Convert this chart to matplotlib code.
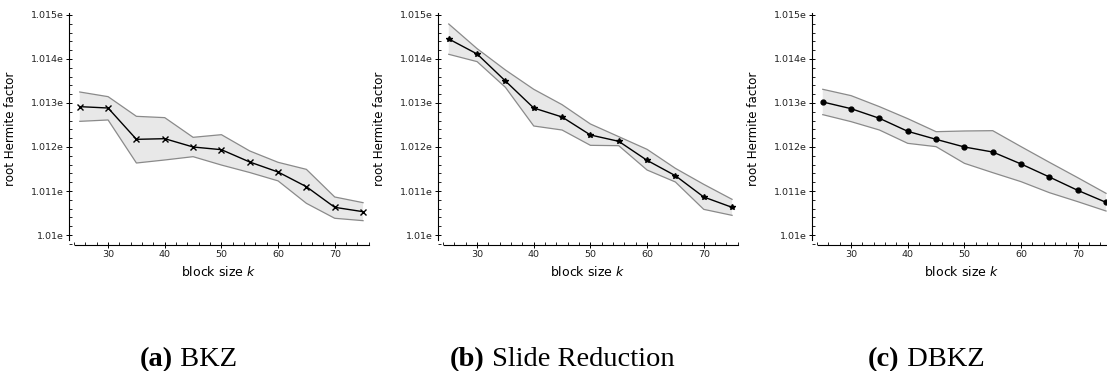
import numpy as np
import matplotlib.pyplot as plt
from matplotlib.ticker import FixedLocator, FixedFormatter, MultipleLocator

block_size = [25, 30, 35, 40, 45, 50, 55, 60, 65, 70, 75]

bkz_mean = [1.012917, 1.012886, 1.012174, 1.012189, 1.012000, 1.011939,
            1.011659, 1.011432, 1.011098, 1.010629, 1.010530]
bkz_upper = [1.013250, 1.013144, 1.012697, 1.012667, 1.012220, 1.012280,
             1.011910, 1.011652, 1.011492, 1.010864, 1.010735]
bkz_lower = [1.012583, 1.012614, 1.011636, 1.011705, 1.011780, 1.011590,
             1.011420, 1.011230, 1.010720, 1.010380, 1.010326]

slide_mean = [1.014455, 1.014114, 1.013500, 1.012886, 1.012682, 1.012273,
              1.012129, 1.011697, 1.011348, 1.010864, 1.010629]
slide_upper = [1.014795, 1.014235, 1.013750, 1.013311, 1.012962, 1.012523,
               1.012235, 1.011947, 1.011515, 1.011152, 1.010811]
slide_lower = [1.014106, 1.013940, 1.013356, 1.012477, 1.012386, 1.012038,
               1.012030, 1.011477, 1.011205, 1.010583, 1.010447]

dbkz_mean = [1.013023, 1.012871, 1.012652, 1.012356, 1.012174, 1.012000,
             1.011886, 1.011614, 1.011318, 1.011015, 1.010742]
dbkz_upper = [1.013311, 1.013167, 1.012917, 1.012644, 1.012348, 1.012364,
              1.012371, 1.012008, 1.011652, 1.011303, 1.010947]
dbkz_lower = [1.012735, 1.012576, 1.012386, 1.012083, 1.012008, 1.011629,
              1.011417, 1.011212, 1.010962, 1.010758, 1.010545]

y_ticks = [1.010, 1.011, 1.012, 1.013, 1.014, 1.015]
y_tick_labels = ["1.01e", "1.011e", "1.012e", "1.013e", "1.014e", "1.015e"]
x_ticks = [30, 40, 50, 60, 70]

panels = [
    ("(a)", "BKZ", bkz_mean, bkz_upper, bkz_lower, "x", 4),
    ("(b)", "Slide Reduction", slide_mean, slide_upper, slide_lower, "*", 4),
    ("(c)", "DBKZ", dbkz_mean, dbkz_upper, dbkz_lower, "o", 3.5),
]

W, H = 1107, 371
fig = plt.figure(figsize=(W / 100, H / 100), dpi=100)

left_px = [69, 438, 812]
caption_px = [140, 450, 868]
ax_w, top_px, bot_px = 300, 13, 245

for i, (tag, name, mean, upper, lower, mk, ms) in enumerate(panels):
    ax = fig.add_axes([left_px[i] / W, 1 - bot_px / H, ax_w / W, (bot_px - top_px) / H])
    ax.fill_between(block_size, lower, upper, facecolor="#e8e8e8",
                    edgecolor="none", zorder=1)
    ax.plot(block_size, upper, color="#8a8a8a", lw=0.9, zorder=2)
    ax.plot(block_size, lower, color="#8a8a8a", lw=0.9, zorder=2)
    ax.plot(block_size, mean, color="black", lw=1.0, marker=mk, ms=ms,
            mew=1.0, zorder=3, clip_on=False)

    ax.set_xlim(23.1, 76.05)
    ax.set_ylim(1.009773, 1.015045)
    for s in ("top", "right"):
        ax.spines[s].set_visible(False)
    ax.spines["left"].set_bounds(1.009886, 1.015045)
    ax.spines["bottom"].set_bounds(24.2, 76.05)
    for s in ("left", "bottom"):
        ax.spines[s].set_linewidth(0.8)

    ax.yaxis.set_major_locator(FixedLocator(y_ticks))
    ax.yaxis.set_major_formatter(FixedFormatter(y_tick_labels))
    ax.yaxis.set_minor_locator(MultipleLocator(0.0002))
    ax.xaxis.set_major_locator(FixedLocator(x_ticks))
    ax.xaxis.set_minor_locator(MultipleLocator(2))
    ax.tick_params(which="major", direction="inout", length=5, width=0.7,
                   labelsize=6.8, labelcolor="#222222", pad=1.0)
    ax.tick_params(which="minor", direction="in", length=2.5, width=0.6)

    ax.set_ylabel("root Hermite factor", fontsize=8.6)
    ax.yaxis.set_label_coords(-0.172, 0.5)
    ax.set_xlabel("block size $k$", fontsize=9)
    ax.xaxis.set_label_coords(0.5, -0.085)

    t = fig.text(caption_px[i] / W, 1 - 366 / H, tag, fontsize=20.5,
                 family="Liberation Serif", weight="bold", va="baseline")
    ax.annotate(" " + name, xy=(1, 0), xycoords=t, va="bottom", ha="left",
                fontsize=20.5, family="Liberation Serif")

fig.savefig("out.png", dpi=100)
